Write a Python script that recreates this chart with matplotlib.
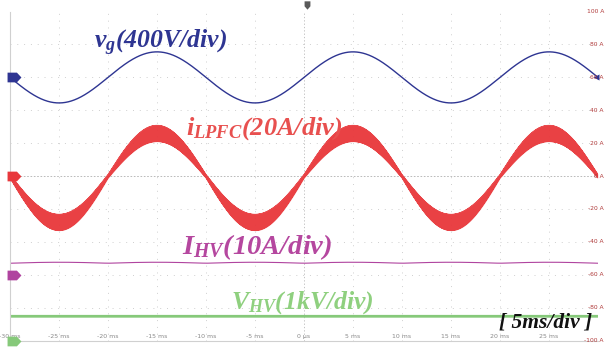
import numpy as np
import matplotlib.pyplot as plt
from matplotlib.path import Path

W, H, DPI = 606, 347, 100

# scope time base, ms
T_START, T_STOP = -30.0, 30.0
TIME_TICKS = [-30, -25, -20, -15, -10, -5, 0, 5, 10, 15, 20, 25]
TIME_LABELS = ['-30 ms', '-25 ms', '-20 ms', '-15 ms', '-10 ms', '-5 ms', '0 µs',
               '5 ms', '10 ms', '15 ms', '20 ms', '25 ms']
GRID_LEVELS = [100, 80, 60, 40, 20, 0, -20, -40, -60, -80, -100]
LEVEL_LABELS = ['100 A', '80 A', '60 A', '40 A', '20 A', '0 A',
                '-20 A', '-40 A', '-60 A', '-80 A', '-100 A']

# 50 Hz line, one entry per 10 ms half cycle
HALF_CYCLE_MS = 10.0
VG_PEAKS = [-310, 310, -310, 310, -310, 310]    # V
IL_PEAKS = [-28, 26, -28, 26, -28, 26]          # A
IL_RIPPLE_CREST = 5.0     # half band width at crest, A
IL_RIPPLE_ZERO = 1.2      # half band width at zero crossing, A
FSW_KHZ = 20
IHV_MEAN = 3.75           # A
IHV_RIPPLE = 0.3          # A, twice line frequency
VHV_MEAN = 750            # V

# channel scale per div and ground marker position in div
VG_DIV, VG_GND = 400, 3
IL_DIV, IL_GND = 20, 0
IHV_DIV, IHV_GND = 10, -3
VHV_DIV, VHV_GND = 1000, -5
UNITS_PER_DIV = 20

C_VG = '#2e3592'
C_IL = '#e8383c'
C_IHV = '#b0449f'
C_VHV = '#86c97a'


def screen(v, div, gnd):
    return (gnd + np.asarray(v) / div) * UNITS_PER_DIV


def half_cycles(t, peaks):
    k = np.clip(((t - T_START) // HALF_CYCLE_MS).astype(int), 0, len(peaks) - 1)
    ph = (t - T_START - k * HALF_CYCLE_MS) / HALF_CYCLE_MS
    s = np.sin(np.pi * ph)
    return np.asarray(peaks, float)[k] * s, np.abs(s)


t = np.linspace(T_START, T_STOP, 6000)
vg, _ = half_cycles(t, VG_PEAKS)
_, mag = half_cycles(t, IL_PEAKS)
ihv = IHV_MEAN + IHV_RIPPLE * (mag - 0.5)
vhv = np.full_like(t, VHV_MEAN)

# inductor current: switching ripple as a zigzag between the band edges
t_sw = np.arange(T_START, T_STOP, 0.5 / FSW_KHZ)
il_c, il_mag = half_cycles(t_sw, IL_PEAKS)
half_band = IL_RIPPLE_ZERO + (IL_RIPPLE_CREST - IL_RIPPLE_ZERO) * il_mag
sign = np.where(np.arange(len(t_sw)) % 2 == 0, 1.0, -1.0)
il = il_c + sign * half_band

fig = plt.figure(figsize=(W / DPI, H / DPI), dpi=DPI)
ax = fig.add_axes([10 / W, (H - 341) / H, 588 / W, 329.5 / H])
ax.set_xlim(T_START, T_STOP)
ax.set_ylim(-100, 100)
ax.set_xticks([])
ax.set_yticks([])
for s in ['top', 'right']:
    ax.spines[s].set_visible(False)
for s in ['left', 'bottom']:
    ax.spines[s].set_color('#d0d0d0')
    ax.spines[s].set_linewidth(0.8)

# graticule
for x in TIME_TICKS[1:]:
    if x == 0:
        ax.axvline(x, color='#b8b8b8', lw=0.6, ls=(0, (1.5, 2.5)), zorder=0)
    else:
        ax.axvline(x, color='#cfcfcf', lw=0.7, ls=(0, (1, 6)), zorder=0)
for y in GRID_LEVELS[1:-1]:
    if y == 0:
        ax.axhline(y, color='#b0b0b0', lw=0.6, ls=(0, (2, 2)), zorder=0)
    else:
        ax.axhline(y, color='#cfcfcf', lw=0.7, ls=(0, (1, 6)), zorder=0)

ax.fill_between(t_sw, il_c - half_band, il_c + half_band, color=C_IL, alpha=0.55, lw=0)
ax.plot(t_sw, il, color=C_IL, lw=0.5, alpha=0.9)
ax.plot(t, screen(vg, VG_DIV, VG_GND), color=C_VG, lw=1.0)
ax.plot(t, screen(ihv, IHV_DIV, IHV_GND), color=C_IHV, lw=0.8)
ax.plot(t, screen(vhv, VHV_DIV, VHV_GND), color=C_VHV, lw=2.0)

for x, lab in zip(TIME_TICKS, TIME_LABELS):
    ax.text(x, -97.5, lab, color='#8a8a8a', fontsize=4.5, ha='center', va='center')
for y, lab in zip(GRID_LEVELS, LEVEL_LABELS):
    fig.text(604 / W, 1 - (176 - y * 1.6475) / H, lab, color='#b03a3a',
             fontsize=4.3, ha='right', va='center')

# channel ground markers
home = Path([(-1, -0.7), (0.35, -0.7), (1, 0), (0.35, 0.7), (-1, 0.7), (-1, -0.7)],
            [Path.MOVETO] + [Path.LINETO] * 4 + [Path.CLOSEPOLY])
for gnd, c in [(VG_GND, C_VG), (IL_GND, C_IL), (IHV_GND, C_IHV), (VHV_GND, C_VHV)]:
    ax.plot(-29.55, gnd * UNITS_PER_DIV, marker=home, ms=10, color=c, mec='none',
            clip_on=False, zorder=5)
ax.plot(29.75, VG_GND * UNITS_PER_DIV, marker='<', ms=5, color=C_VG, mec='none',
        clip_on=False, zorder=5)
# trigger position
down = Path([(-0.7, 1), (0.7, 1), (0.7, -0.2), (0, -1), (-0.7, -0.2), (-0.7, 1)],
            [Path.MOVETO] + [Path.LINETO] * 4 + [Path.CLOSEPOLY])
fig.lines.append(plt.Line2D([307 / W], [1 - 5 / H], marker=down, ms=6, color='#5a5a5a',
                            mec='none', transform=fig.transFigure))

plt.rcParams['mathtext.fontset'] = 'custom'
plt.rcParams['mathtext.it'] = 'Liberation Serif:italic:bold'
plt.rcParams['mathtext.rm'] = 'Liberation Serif:italic:bold'
lab_kw = dict(family='Liberation Serif', weight='bold', style='italic', va='center', ha='left')
fig.text(94 / W, 1 - 43 / H, r'$v_g$(400V/div)', color=C_VG, fontsize=18.5, **lab_kw)
fig.text(186 / W, 1 - 129 / H, r'$i_{LPFC}$(20A/div)', color='#e8504f', fontsize=19, **lab_kw)
fig.text(182 / W, 1 - 247 / H, r'$I_{HV}$(10A/div)', color='#b5479f', fontsize=20.5, **lab_kw)
fig.text(231 / W, 1 - 303 / H, r'$V_{HV}$(1kV/div)', color='#8fd07f', fontsize=18.5, **lab_kw)
fig.text(499 / W, 1 - 323 / H, '[ 5ms/div ]', color='#111111', fontsize=15.5, **lab_kw)

fig.savefig('out.png', dpi=DPI)
